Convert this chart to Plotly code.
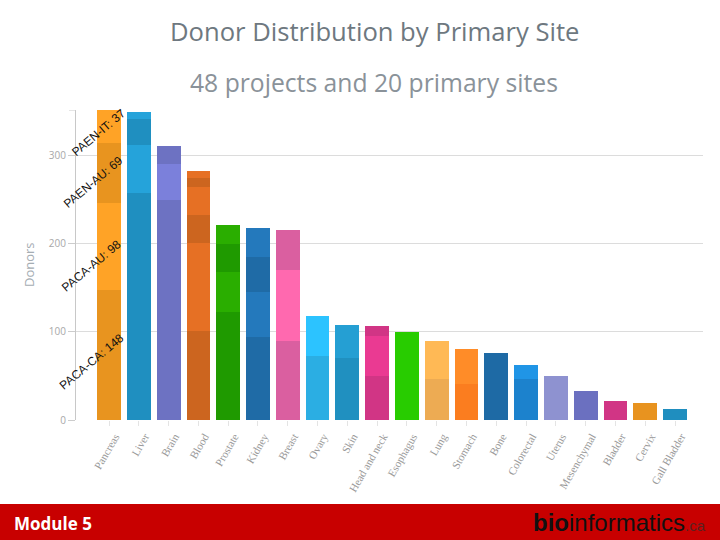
import plotly.graph_objects as go

# primary sites, largest first
sites = ["Pancreas", "Liver", "Brain", "Blood", "Prostate", "Kidney", "Breast", "Ovary", "Skin",
         "Head and neck", "Esophagus", "Lung", "Stomach", "Bone", "Colorectal", "Uterus",
         "Mesenchymal", "Bladder", "Cervix", "Gall Bladder"]

# donors per project, stacked bottom to top (0 = no such project for that site)
project_1 = [148, 258, 250, 101, 123, 94, 90, 73, 70, 50, 100, 47, 41, 76, 46, 50, 33, 22, 19, 12]
project_2 = [98, 54, 41, 100, 45, 51, 80, 45, 38, 45, 0, 43, 40, 0, 16, 0, 0, 0, 0, 0]
project_3 = [69, 30, 20, 32, 32, 40, 46, 0, 0, 12, 0, 0, 0, 0, 0, 0, 0, 0, 0, 0]
project_4 = [37, 8, 0, 32, 21, 33, 0, 0, 0, 0, 0, 0, 0, 0, 0, 0, 0, 0, 0, 0]
project_5 = [0, 0, 0, 10, 0, 0, 0, 0, 0, 0, 0, 0, 0, 0, 0, 0, 0, 0, 0, 0]
project_6 = [0, 0, 0, 8, 0, 0, 0, 0, 0, 0, 0, 0, 0, 0, 0, 0, 0, 0, 0, 0]

colors_1 = ["#E8941F", "#1F8FC0", "#6D72C2", "#CC651F", "#1F9A00", "#1F6BA6", "#DA5FA0", "#2BAEE3",
            "#2090C0", "#D13585", "#28CC00", "#EDAB53", "#FB7D1F", "#1E6AA5", "#1C82CD", "#8E92D0",
            "#6B70C0", "#D13585", "#E8931F", "#1F8EBF"]
colors_2 = ["#FFA326", "#25A3DA", "#7B80DB", "#E67024", "#2AAE00", "#2479BC", "#FF69AF", "#2CC3FF",
            "#259FD3", "#EA3A92", "#28CC00", "#FFB955", "#FF8C28", "#1E6AA5", "#2095E6", "#8E92D0",
            "#6B70C0", "#D13585", "#E8931F", "#1F8EBF"]
colors_3 = ["#E8941F", "#1F8FC0", "#6D72C2", "#CC651F", "#1F9A00", "#1F6BA6", "#DA5FA0"] + ["#D13585"] * 13
colors_4 = ["#FFA326", "#25A3DA", "#7B80DB", "#E67024", "#2AAE00", "#2479BC"] + ["#DA5FA0"] * 14
colors_5 = ["#CC651F"] * 20
colors_6 = ["#E67024"] * 20

# callouts for the pancreas bar
callout_text = ["PACA-CA: 148", "PACA-AU: 98", "PAEN-AU: 69", "PAEN-IT: 37"]
callout_x = [-0.6, -0.6, -0.53, -0.37]
callout_y = [66, 175, 270, 326]

fig = go.Figure()

layers = [(project_1, colors_1), (project_2, colors_2), (project_3, colors_3),
          (project_4, colors_4), (project_5, colors_5), (project_6, colors_6)]
for values, colors in layers:
    fig.add_trace(go.Bar(x=sites, y=values, marker=dict(color=colors, line=dict(width=0)), showlegend=False))

for text, x, y in zip(callout_text, callout_x, callout_y):
    fig.add_annotation(x=x, y=y, xref="x", yref="y", text=text, showarrow=False, textangle=-40,
                       font=dict(family="Liberation Sans", size=12, color="#111111"))

# red footer band
fig.add_shape(type="rect", xref="paper", yref="paper", x0=0, x1=1, y0=0, y1=36 / 540,
              fillcolor="#C80000", line_width=0, layer="below")
# small tick at the top of the y axis line
fig.add_shape(type="line", xref="paper", yref="y", x0=69 / 720, x1=76 / 720, y0=352, y1=352,
              line=dict(color="#CCCCCC", width=1))


def add_text(x_px, y_px, text, font, xanchor="center", angle=0):
    fig.add_annotation(x=x_px / 720, y=1 - y_px / 540, xref="paper", yref="paper", showarrow=False,
                       xanchor=xanchor, yanchor="middle", textangle=angle, text=text, font=font)


add_text(374, 32, "Donor Distribution by Primary Site", dict(family="Open Sans", size=25.6, color="#6E7880"))
add_text(374, 82, "48 projects and 20 primary sites", dict(family="Open Sans", size=24.7, color="#8A9299"))
add_text(29, 265, "Donors", dict(family="Open Sans", size=13, color="#A5ADB3"), angle=-90)
add_text(12, 523, "<b>Module 5</b>", dict(family="Open Sans", size=17, color="white"), xanchor="left")
add_text(708, 522, "<b>bio</b>informatics<span style='font-size:15px;color:#5A2020'>.ca</span>",
         dict(family="Liberation Sans", size=24, color="#111111"), xanchor="right")

fig.update_layout(
    width=720,
    height=540,
    margin=dict(l=0, r=0, t=0, b=0, pad=0, autoexpand=False),
    paper_bgcolor="white",
    plot_bgcolor="white",
    barmode="stack",
    bargap=0.2,
    xaxis=dict(
        domain=[76 / 720, 703 / 720],
        range=[-1.11, 19.94],
        tickangle=-60,
        ticks="outside",
        ticklen=5,
        tickcolor="#E4E4E4",
        ticklabelshift=6,
        tickfont=dict(family="Liberation Serif", size=11, color="#999999"),
        showgrid=False,
        showline=False,
        zeroline=False,
        automargin=False,
    ),
    yaxis=dict(
        domain=[120 / 540, 430 / 540],
        range=[0, 352],
        tickvals=[0, 100, 200, 300],
        ticks="outside",
        ticklen=7,
        tickcolor="#CCCCCC",
        tickfont=dict(family="Open Sans", size=10, color="#A8A8A8"),
        showgrid=True,
        gridcolor="#DCDCDC",
        showline=True,
        linecolor="#C8C8C8",
        zeroline=False,
        automargin=False,
    ),
)

# drop the browser's default page margin so the figure fills the window
fig.write_html("out.html", config=dict(displayModeBar=False), post_script="document.body.style.margin='0';")
